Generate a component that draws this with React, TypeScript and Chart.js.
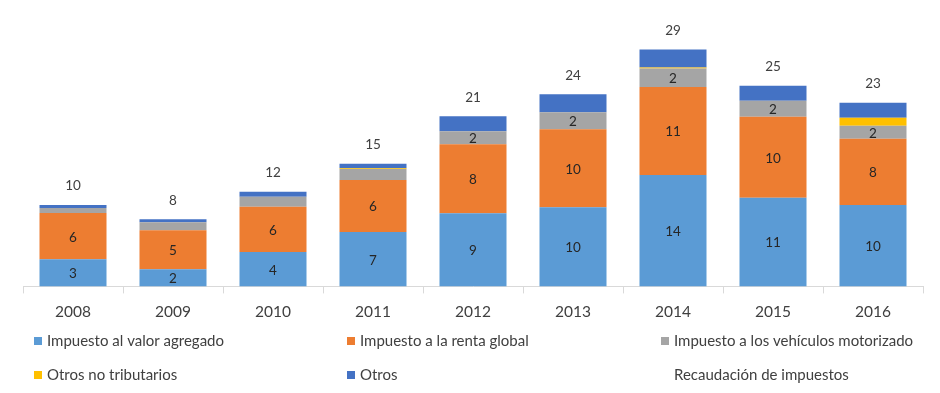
import React, { useEffect, useRef } from "react";
import { Chart, registerables } from "chart.js";

Chart.register(...registerables);

const years = ["2008", "2009", "2010", "2011", "2012", "2013", "2014", "2015", "2016"];
const iva = [3.33, 2.09, 4.22, 6.69, 8.99, 9.73, 13.67, 10.87, 9.98];
const renta = [5.67, 4.8, 5.55, 6.37, 8.45, 9.55, 10.8, 9.94, 8.13];
const vehiculos = [0.62, 0.99, 1.23, 1.35, 1.6, 2.09, 2.29, 1.97, 1.6];
const noTributarios = [0, 0, 0, 0.08, 0, 0, 0.12, 0, 0.99];
const otros = [0.37, 0.37, 0.62, 0.55, 1.85, 2.22, 2.2, 1.85, 1.85];
const totals = years.map((_, i) => iva[i] + renta[i] + vehiculos[i] + noTributarios[i] + otros[i]);

const FONT = "Lato, 'Open Sans', sans-serif";
const TEXT = "#404040";

const labelPlugin = {
  id: "labelPlugin",
  afterDatasetsDraw(chart: any) {
    const ctx = chart.ctx;
    ctx.save();
    ctx.textAlign = "center";
    ctx.textBaseline = "middle";
    ctx.fillStyle = "#262626";
    ctx.font = `13.5px ${FONT}`;
    [0, 1, 2].forEach((di) => {
      const meta = chart.getDatasetMeta(di);
      const data = chart.data.datasets[di].data as number[];
      meta.data.forEach((el: any, i: number) => {
        const v = data[i];
        if (v < 1.5) return;
        const y = (el.y + el.base) / 2;
        ctx.fillText(String(Math.round(v)), el.x, y + 1);
      });
    });
    const tmeta = chart.getDatasetMeta(5);
    const tdata = chart.data.datasets[5].data as number[];
    ctx.fillStyle = TEXT;
    tmeta.data.forEach((el: any, i: number) => {
      ctx.fillText(String(Math.round(tdata[i])), el.x, el.y - 19);
    });
    ctx.restore();
  },
};

const legendPlugin = {
  id: "customLegend",
  afterDraw(chart: any) {
    const ctx = chart.ctx;
    ctx.save();
    ctx.font = `15px ${FONT}`;
    ctx.textBaseline = "middle";
    ctx.textAlign = "left";
    const colX = [34, 347, 661];
    const rowY = [341, 375];
    chart.data.datasets.forEach((ds: any, i: number) => {
      const col = i % 3;
      const row = Math.floor(i / 3);
      const x = colX[col];
      const y = rowY[row];
      if (ds.type !== "line") {
        ctx.fillStyle = ds.backgroundColor;
        ctx.fillRect(x, y - 4, 8, 8);
      }
      ctx.fillStyle = TEXT;
      ctx.fillText(ds.label, x + 13, y);
    });
    ctx.restore();
  },
};

export default function App() {
  const ref = useRef<HTMLCanvasElement | null>(null);
  useEffect(() => {
    if (!ref.current) return;
    const chart = new Chart(ref.current, {
      type: "bar",
      data: {
        labels: years,
        datasets: [
          { label: "Impuesto al valor agregado", data: iva, backgroundColor: "#5B9BD5", stack: "s" },
          { label: "Impuesto a la renta global", data: renta, backgroundColor: "#ED7D31", stack: "s" },
          { label: "Impuesto a los vehículos motorizado", data: vehiculos, backgroundColor: "#A5A5A5", stack: "s" },
          { label: "Otros no tributarios", data: noTributarios, backgroundColor: "#FFC000", stack: "s" },
          { label: "Otros", data: otros, backgroundColor: "#4472C4", stack: "s" },
          {
            type: "line",
            label: "Recaudación de impuestos",
            data: totals,
            showLine: false,
            pointRadius: 0,
            borderColor: "rgba(0,0,0,0)",
            backgroundColor: "rgba(0,0,0,0)",
            stack: "total",
          } as any,
        ],
      },
      options: {
        animation: false,
        responsive: true,
        maintainAspectRatio: false,
        layout: { padding: { left: 23, right: 17, top: 42, bottom: 63 } },
        datasets: { bar: { categoryPercentage: 1, barPercentage: 0.67 } },
        plugins: { legend: { display: false }, tooltip: { enabled: false } },
        scales: {
          x: {
            stacked: true,
            grid: {
              display: true,
              offset: true,
              drawOnChartArea: false,
              drawTicks: true,
              tickLength: 7,
              color: "#D9D9D9",
            },
            border: { display: true, color: "#D9D9D9" },
            ticks: { color: TEXT, font: { family: FONT, size: 15.5 }, padding: 9 },
          },
          y: { stacked: true, display: false, min: 0, max: 30 },
        },
      },
      plugins: [labelPlugin, legendPlugin],
    });
    return () => chart.destroy();
  }, []);
  return (
    <div style={{ position: "fixed", left: 0, top: 0, width: 940, height: 393, background: "#fff" }}>
      <canvas ref={ref} />
    </div>
  );
}
